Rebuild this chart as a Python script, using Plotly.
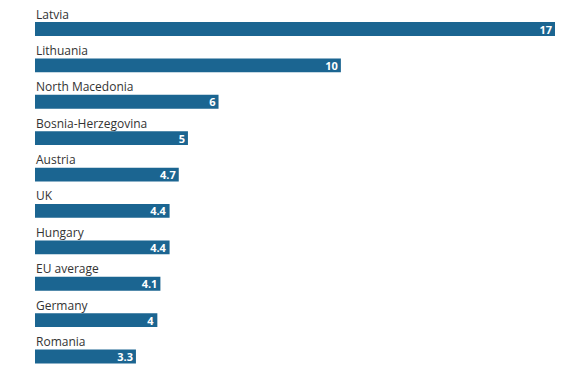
import plotly.graph_objects as go

categories = ["Latvia", "Lithuania", "North Macedonia", "Bosnia-Herzegovina", "Austria",
              "UK", "Hungary", "EU average", "Germany", "Romania"]
values = [17, 10, 6, 5, 4.7, 4.4, 4.4, 4.1, 4, 3.3]

BAR_COLOR = "#1b6591"

fig = go.Figure()
fig.add_trace(go.Bar(
    x=values, y=categories, orientation="h",
    marker=dict(color=BAR_COLOR, line=dict(width=0)),
    width=0.38,
    text=[f"{v:g}" for v in values],
    textposition="inside", insidetextanchor="end", textangle=0,
    insidetextfont=dict(family="Open Sans", size=11, color="white", weight="bold"),
    hoverinfo="skip",
))

for c in categories:
    fig.add_annotation(x=0, y=c, xref="x", yref="y", text=c, showarrow=False,
                       xanchor="left", yanchor="middle", yshift=15, xshift=-1,
                       font=dict(family="Open Sans", size=12, color="#333333"))

fig.update_layout(
    width=571, height=370,
    margin=dict(l=35, r=16, t=0, b=0),
    paper_bgcolor="white", plot_bgcolor="white",
    showlegend=False,
    uniformtext=dict(mode="show", minsize=11),
    xaxis=dict(range=[0, 17], visible=False, fixedrange=True),
    yaxis=dict(range=[9.371, -0.797], visible=False, type="category",
               categoryorder="array", categoryarray=categories),
)

fig.write_html("out.html", config={"displayModeBar": False},
               post_script="document.body.style.margin='0';document.body.style.overflow='hidden';")
